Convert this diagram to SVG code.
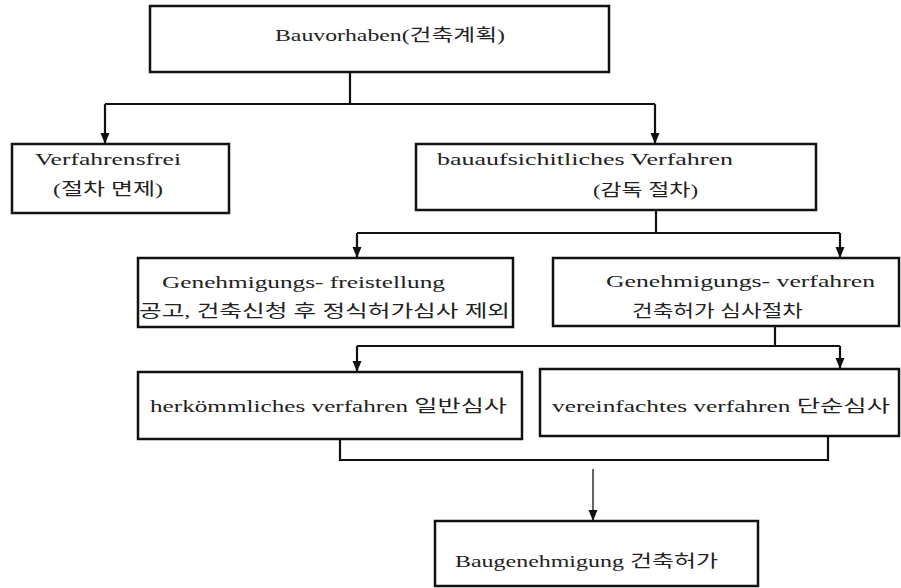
<svg xmlns="http://www.w3.org/2000/svg" width="901" height="588" viewBox="0 0 901 588">
<defs>
<style>
.box{fill:#fff;stroke:#111;stroke-width:2.5}
.t{font-family:"Liberation Serif","DejaVu Serif","Noto Sans CJK KR",serif;font-size:17px;fill:#222}
.c{fill:none;stroke:#111;stroke-width:2.2}
.thin{fill:none;stroke:#111;stroke-width:1.3}
</style>
<marker id="ah" markerUnits="userSpaceOnUse" markerWidth="12" markerHeight="12" viewBox="0 0 12 12" refX="11" refY="6" orient="auto">
<path d="M0,1.5 L11,6 L0,10.5 Z" fill="#111"/>
</marker>
</defs>
<rect width="901" height="588" fill="#fff"/>
<g id="connectors">
<path class="c" d="M350,72 V104 M105,104 H655"/>
<path class="c" d="M105,104 V144" marker-end="url(#ah)"/>
<path class="c" d="M655,104 V144" marker-end="url(#ah)"/>
<path class="c" d="M656,210 V233 M357,233 H840"/>
<path class="c" d="M357,233 V258" marker-end="url(#ah)"/>
<path class="c" d="M840,233 V258" marker-end="url(#ah)"/>
<path class="c" d="M775,326 V346 M357,346 H840"/>
<path class="c" d="M357,346 V372" marker-end="url(#ah)"/>
<path class="c" d="M840,346 V369" marker-end="url(#ah)"/>
<path class="c" d="M340,439 V460 H828 V436"/>
<path class="thin" d="M593,469 V521" marker-end="url(#ah)"/>
</g>
<g id="n-bauvorhaben">
<rect class="box" x="150" y="6" width="459" height="66"/>
<text class="t" x="275" y="41" textLength="230" lengthAdjust="spacingAndGlyphs">Bauvorhaben(건축계획)</text>
</g>
<g id="n-verfahrensfrei">
<rect class="box" x="12" y="144" width="217" height="69"/>
<text class="t" x="35" y="165" textLength="146" lengthAdjust="spacingAndGlyphs">Verfahrensfrei</text>
<text class="t" x="53" y="195" textLength="110" lengthAdjust="spacingAndGlyphs">(절차 면제)</text>
</g>
<g id="n-bauaufsicht">
<rect class="box" x="416" y="144" width="400" height="66"/>
<text class="t" x="437" y="165" textLength="296" lengthAdjust="spacingAndGlyphs">bauaufsichitliches Verfahren</text>
<text class="t" x="593" y="196" textLength="105" lengthAdjust="spacingAndGlyphs">(감독 절차)</text>
</g>
<g id="n-freistellung">
<rect class="box" x="138" y="258" width="375" height="69"/>
<text class="t" x="162" y="288" textLength="283" lengthAdjust="spacingAndGlyphs">Genehmigungs- freistellung</text>
<text class="t" x="139" y="317" textLength="371" lengthAdjust="spacingAndGlyphs">공고, 건축신청 후 정식허가심사 제외</text>
</g>
<g id="n-genverfahren">
<rect class="box" x="553" y="258" width="346" height="68"/>
<text class="t" x="606" y="287" textLength="269" lengthAdjust="spacingAndGlyphs">Genehmigungs- verfahren</text>
<text class="t" x="632" y="317" textLength="171" lengthAdjust="spacingAndGlyphs">건축허가 심사절차</text>
</g>
<g id="n-herkoemmlich">
<rect class="box" x="138" y="372" width="384" height="67"/>
<text class="t" x="150" y="412" textLength="357" lengthAdjust="spacingAndGlyphs">herkömmliches verfahren 일반심사</text>
</g>
<g id="n-vereinfacht">
<rect class="box" x="540" y="369" width="359" height="67"/>
<text class="t" x="552" y="412" textLength="338" lengthAdjust="spacingAndGlyphs">vereinfachtes verfahren 단순심사</text>
</g>
<g id="n-baugenehmigung">
<rect class="box" x="435" y="521" width="323" height="65"/>
<text class="t" x="455" y="567" textLength="263" lengthAdjust="spacingAndGlyphs">Baugenehmigung 건축허가</text>
</g>
</svg>
